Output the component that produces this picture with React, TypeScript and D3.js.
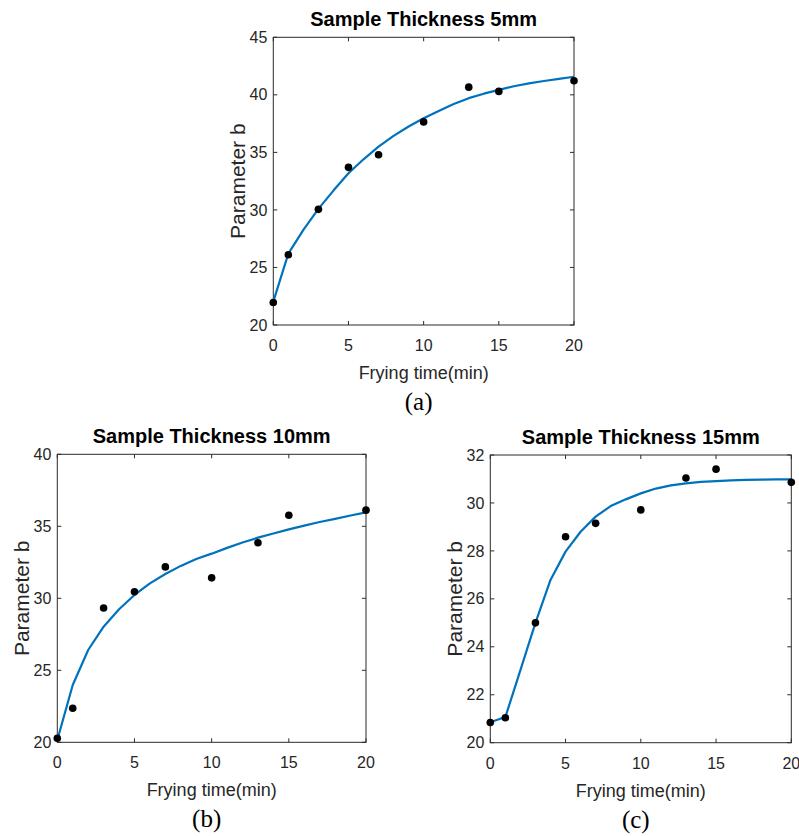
import React, { useEffect, useRef } from 'react';
import * as d3 from 'd3';

// measured frying times (min)
const times = [0, 1, 3, 5, 7, 10, 13, 15, 20];
const b5mm = [21.95, 26.1, 30.05, 33.7, 34.8, 37.65, 40.67, 40.3, 41.23];
const b10mm = [20.28, 22.36, 29.33, 30.46, 32.18, 31.42, 33.86, 35.77, 36.12];
const b15mm = [20.84, 21.04, 25.0, 28.59, 29.15, 29.71, 31.04, 31.41, 30.86];

// fitted curves, read at each minute
const fitTimes = [0, 1, 2, 3, 4, 5, 6, 7, 8, 9, 10, 11, 12, 13, 14, 15, 16, 17, 18, 19, 20];
const fit5mm = [22.03, 26.2, 28.26, 30.09, 31.68, 33.19, 34.4, 35.5, 36.43, 37.25, 37.97, 38.6, 39.2, 39.71, 40.1, 40.43, 40.75, 41.0, 41.2, 41.38, 41.57];
const fit10mm = [20.16, 23.98, 26.41, 28.03, 29.24, 30.23, 31.04, 31.69, 32.25, 32.73, 33.1, 33.5, 33.88, 34.21, 34.5, 34.79, 35.05, 35.3, 35.52, 35.75, 35.97];
const fit15mm = [20.85, 21.07, 23.03, 25.0, 26.79, 27.97, 28.8, 29.43, 29.87, 30.15, 30.4, 30.6, 30.73, 30.82, 30.88, 30.91, 30.94, 30.96, 30.97, 30.98, 30.98];

const xTicks = [0, 5, 10, 15, 20];

const panels = [
  { title: 'Sample Thickness 5mm', tag: '(a)', pts: b5mm, fit: fit5mm, yDomain: [20, 45], yTicks: [20, 25, 30, 35, 40, 45], box: { x: 273.3, y: 37.3, w: 300.7, h: 287.7 } },
  { title: 'Sample Thickness 10mm', tag: '(b)', pts: b10mm, fit: fit10mm, yDomain: [20, 40], yTicks: [20, 25, 30, 35, 40], box: { x: 57.3, y: 454.3, w: 308.7, h: 288 } },
  { title: 'Sample Thickness 15mm', tag: '(c)', pts: b15mm, fit: fit15mm, yDomain: [20, 32], yTicks: [20, 22, 24, 26, 28, 30, 32], box: { x: 490.3, y: 455, w: 301, h: 287.7 } },
];

const sans = 'Liberation Sans, Arial, sans-serif';
const serif = 'Liberation Serif, Times New Roman, serif';
const axisColor = '#2b2b2b';

function App() {
  const ref = useRef<SVGSVGElement | null>(null);

  useEffect(() => {
    const svg = d3.select(ref.current);
    svg.selectAll('*').remove();

    panels.forEach(p => {
      const { x, y, w, h } = p.box;
      const g = svg.append('g').attr('transform', `translate(${x},${y})`);
      const xScale = d3.scaleLinear().domain([0, 20]).range([0, w]);
      const yScale = d3.scaleLinear().domain(p.yDomain).range([h, 0]);

      // box
      g.append('rect')
        .attr('width', w).attr('height', h)
        .attr('fill', 'none').attr('stroke', axisColor).attr('stroke-width', 1);

      // inward ticks on all four sides
      xTicks.forEach(t => {
        const tx = xScale(t);
        g.append('line').attr('x1', tx).attr('x2', tx).attr('y1', h).attr('y2', h - 4).attr('stroke', axisColor);
        g.append('line').attr('x1', tx).attr('x2', tx).attr('y1', 0).attr('y2', 4).attr('stroke', axisColor);
        g.append('text')
          .attr('x', tx).attr('y', h + 26)
          .attr('text-anchor', 'middle')
          .style('font-family', sans).style('font-size', '16px').style('fill', '#262626')
          .text(t);
      });
      p.yTicks.forEach(t => {
        const ty = yScale(t);
        g.append('line').attr('x1', 0).attr('x2', 4).attr('y1', ty).attr('y2', ty).attr('stroke', axisColor);
        g.append('line').attr('x1', w).attr('x2', w - 4).attr('y1', ty).attr('y2', ty).attr('stroke', axisColor);
        g.append('text')
          .attr('x', -6).attr('y', ty).attr('dy', '0.35em')
          .attr('text-anchor', 'end')
          .style('font-family', sans).style('font-size', '16px').style('fill', '#262626')
          .text(t);
      });

      // fitted curve
      g.append('path')
        .datum(fitTimes)
        .attr('fill', 'none')
        .attr('stroke', '#0072BD')
        .attr('stroke-width', 2.2)
        .attr('stroke-linejoin', 'round')
        .attr('d', d3.line<number>()
          .x(d => xScale(d))
          .y((d, i) => yScale(p.fit[i]))
        );

      // measured points
      g.selectAll('circle.pt')
        .data(times)
        .enter()
        .append('circle')
        .attr('class', 'pt')
        .attr('cx', d => xScale(d))
        .attr('cy', (d, i) => yScale(p.pts[i]))
        .attr('r', 3.8)
        .attr('fill', '#000');

      // title
      g.append('text')
        .attr('x', w / 2).attr('y', -11)
        .attr('text-anchor', 'middle')
        .style('font-family', sans).style('font-size', '20px').style('font-weight', 'bold').style('fill', '#000')
        .text(p.title);

      // axis labels
      g.append('text')
        .attr('x', w / 2).attr('y', h + 54)
        .attr('text-anchor', 'middle')
        .style('font-family', sans).style('font-size', '18px').style('fill', '#262626')
        .text('Frying time(min)');

      g.append('text')
        .attr('transform', `translate(${-36},${h / 2}) rotate(-90)`)
        .attr('text-anchor', 'middle')
        .attr('dy', '0.35em')
        .style('font-family', sans).style('font-size', '21px').style('fill', '#262626')
        .text('Parameter b');

      // panel tag
      g.append('text')
        .attr('x', w / 2 - 5).attr('y', h + 85)
        .attr('text-anchor', 'middle')
        .style('font-family', serif).style('font-size', '25px').style('fill', '#000')
        .text(p.tag);
    });
  }, []);

  return (
    <svg
      ref={ref}
      width={799}
      height={836}
      style={{ position: 'absolute', left: 0, top: 0, background: '#fff' }}
    />
  );
}

export default App;
